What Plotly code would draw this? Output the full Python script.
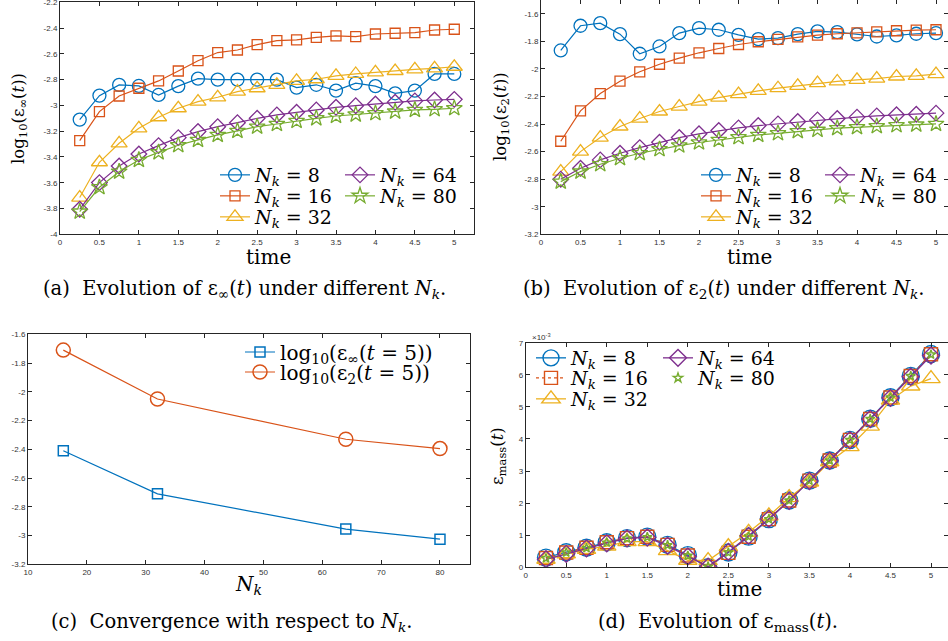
import plotly.graph_objects as go

W, H = 948, 641

# ---------------- data ----------------
t = [0.25, 0.5, 0.75, 1.0, 1.25, 1.5, 1.75, 2.0, 2.25, 2.5,
     2.75, 3.0, 3.25, 3.5, 3.75, 4.0, 4.25, 4.5, 4.75, 5.0]
nk_labels = ["8", "16", "32", "64", "80"]

# (a) log10(eps_inf(t))
einf_8 = [-3.11, -2.924, -2.841, -2.849, -2.919, -2.85, -2.792, -2.80, -2.80, -2.80,
          -2.80, -2.862, -2.84, -2.885, -2.828, -2.85, -2.906, -2.885, -2.756, -2.756]
einf_16 = [-3.273, -3.048, -2.927, -2.867, -2.81, -2.733, -2.653, -2.59, -2.57, -2.528,
           -2.497, -2.492, -2.472, -2.461, -2.466, -2.446, -2.44, -2.435, -2.415, -2.409]
einf_32 = [-3.715, -3.441, -3.294, -3.178, -3.092, -3.022, -2.971, -2.937, -2.893, -2.867,
           -2.841, -2.81, -2.797, -2.771, -2.756, -2.743, -2.733, -2.72, -2.712, -2.70]
einf_64 = [-3.806, -3.599, -3.47, -3.377, -3.312, -3.25, -3.203, -3.165, -3.134, -3.10,
           -3.074, -3.053, -3.035, -3.015, -3.002, -2.989, -2.976, -2.965, -2.958, -2.953]
einf_80 = [-3.824, -3.635, -3.514, -3.423, -3.364, -3.309, -3.268, -3.229, -3.198, -3.165,
           -3.144, -3.121, -3.10, -3.082, -3.071, -3.061, -3.048, -3.035, -3.03, -3.022]

# (b) log10(eps_2(t))
e2_8 = [-1.866, -1.687, -1.668, -1.748, -1.89, -1.837, -1.74, -1.704, -1.716, -1.753,
        -1.784, -1.777, -1.748, -1.728, -1.733, -1.75, -1.765, -1.757, -1.745, -1.74]
e2_16 = [-2.525, -2.304, -2.179, -2.089, -2.021, -1.966, -1.922, -1.883, -1.852, -1.823,
         -1.803, -1.786, -1.767, -1.755, -1.745, -1.738, -1.731, -1.723, -1.719, -1.716]
e2_32 = [-2.745, -2.60, -2.498, -2.418, -2.36, -2.309, -2.273, -2.237, -2.208, -2.183,
         -2.159, -2.14, -2.123, -2.103, -2.091, -2.079, -2.07, -2.055, -2.05, -2.038]
e2_64 = [-2.80, -2.721, -2.66, -2.612, -2.571, -2.532, -2.498, -2.471, -2.447, -2.428,
         -2.411, -2.399, -2.382, -2.37, -2.36, -2.35, -2.341, -2.333, -2.329, -2.321]
e2_80 = [-2.818, -2.745, -2.692, -2.648, -2.612, -2.583, -2.556, -2.534, -2.515, -2.496,
         -2.479, -2.467, -2.452, -2.442, -2.43, -2.423, -2.416, -2.409, -2.404, -2.399]

# (c) convergence at t = 5
nk_conv = [16, 32, 64, 80]
conv_inf = [-2.41, -2.71, -2.955, -3.025]
conv_2 = [-1.71, -2.05, -2.33, -2.395]

# (d) eps_mass(t) in units of 1e-3
em_8 = [0.30, 0.47, 0.61, 0.78, 0.91, 0.955, 0.70, 0.38, 0.0, 0.46,
        0.955, 1.50, 2.08, 2.70, 3.33, 3.97, 4.63, 5.30, 5.96, 6.65]
em_16 = [0.29, 0.46, 0.61, 0.78, 0.91, 0.95, 0.70, 0.37, 0.01, 0.45,
         0.95, 1.50, 2.08, 2.70, 3.33, 3.97, 4.62, 5.29, 5.96, 6.64]
em_32 = [0.25, 0.42, 0.56, 0.66, 0.80, 0.80, 0.52, 0.22, 0.21, 0.64,
         1.09, 1.60, 2.17, 2.66, 3.29, 3.76, 4.40, 5.21, 5.65, 5.88]
em_64 = [0.25, 0.42, 0.59, 0.75, 0.90, 0.93, 0.67, 0.34, 0.02, 0.48,
         0.98, 1.51, 2.07, 2.69, 3.32, 3.96, 4.62, 5.28, 5.94, 6.60]
em_80 = [0.28, 0.46, 0.60, 0.77, 0.90, 0.94, 0.69, 0.36, 0.02, 0.46,
         0.96, 1.50, 2.08, 2.70, 3.33, 3.97, 4.62, 5.29, 5.96, 6.63]

x_ticks_t = [0, 0.5, 1, 1.5, 2, 2.5, 3, 3.5, 4, 4.5, 5]
x_ticktext_t = ["0", "0.5", "1", "1.5", "2", "2.5", "3", "3.5", "4", "4.5", "5"]
ya_ticks = [-4, -3.8, -3.6, -3.4, -3.2, -3, -2.8, -2.6, -2.4, -2.2]
ya_text = ["-4", "-3.8", "-3.6", "-3.4", "-3.2", "-3", "-2.8", "-2.6", "-2.4", "-2.2"]
yb_ticks = [-3.2, -3, -2.8, -2.6, -2.4, -2.2, -2, -1.8, -1.6]
yb_text = ["-3.2", "-3", "-2.8", "-2.6", "-2.4", "-2.2", "-2", "-1.8", "-1.6"]
xc_ticks = [10, 20, 30, 40, 50, 60, 70, 80]
xc_text = ["10", "20", "30", "40", "50", "60", "70", "80"]
yc_ticks = [-3.2, -3, -2.8, -2.6, -2.4, -2.2, -2, -1.8, -1.6]
yc_text = ["-3.2", "-3", "-2.8", "-2.6", "-2.4", "-2.2", "-2", "-1.8", "-1.6"]
yd_ticks = [0, 1, 2, 3, 4, 5, 6, 7]
yd_text = ["0", "1", "2", "3", "4", "5", "6", "7"]

# ---------------- styles ----------------
C = ["#0072BD", "#D95319", "#EDB120", "#7E2F8E", "#77AC30"]
SYM = ["circle-open", "square-open", "triangle-up-open", "diamond-open", "star-open"]
SIZE = [13, 10, 14, 12, 12]
SERIF = "DejaVu Serif"
TICKFONT = dict(family="Liberation Sans", size=8, color="#333333")


def fx(px):
    return px / W


def fy(py):
    return 1 - py / H


def nk_name(s):
    return "<i>N</i><sub><i>k</i></sub> = " + s


legend_common = dict(bgcolor="rgba(0,0,0,0)", borderwidth=0, xanchor="left", yanchor="middle",
                     tracegroupgap=0, itemclick=False, itemdoubleclick=False)
legends = {}


def new_legend(sym_left, row_y, size=19):
    n = len(legends) + 1
    key = "legend" if n == 1 else "legend%d" % n
    legends[key] = dict(legend_common, x=fx(sym_left - 7), y=fy(row_y),
                        font=dict(family=SERIF, size=size, color="black"))
    return key


fig = go.Figure()

# legend slot positions (symbol left edge, row centre) per N_k, column-major layout
slots_a = [(222, 175), (222, 196), (222, 217), (347, 175), (347, 196)]
slots_b = [(703, 175), (703, 196), (703, 217), (827, 175), (827, 196)]
slots_d = [(538, 358), (538, 378), (538, 399), (665, 358), (665, 378)]

# (a)
series_a = [einf_8, einf_16, einf_32, einf_64, einf_80]
for i, ys in enumerate(series_a):
    fig.add_trace(go.Scatter(
        x=t, y=ys, mode="lines+markers", name=nk_name(nk_labels[i]),
        line=dict(color=C[i], width=1.2),
        marker=dict(symbol=SYM[i], size=SIZE[i], color=C[i], line=dict(width=1.3)),
        xaxis="x", yaxis="y", legend=new_legend(*slots_a[i])))

# (b)
series_b = [e2_8, e2_16, e2_32, e2_64, e2_80]
for i, ys in enumerate(series_b):
    fig.add_trace(go.Scatter(
        x=t, y=ys, mode="lines+markers", name=nk_name(nk_labels[i]),
        line=dict(color=C[i], width=1.2),
        marker=dict(symbol=SYM[i], size=SIZE[i], color=C[i], line=dict(width=1.3)),
        xaxis="x2", yaxis="y2", legend=new_legend(*slots_b[i])))

# (c)
fig.add_trace(go.Scatter(
    x=nk_conv, y=conv_inf, mode="lines+markers",
    name="log<sub>10</sub>(ε<sub>∞</sub>(<i>t</i> = 5))",
    line=dict(color=C[0], width=1.2),
    marker=dict(symbol="square-open", size=10, color=C[0], line=dict(width=1.5)),
    xaxis="x3", yaxis="y3", legend=new_legend(247, 352, 20)))
fig.add_trace(go.Scatter(
    x=nk_conv, y=conv_2, mode="lines+markers",
    name="log<sub>10</sub>(ε<sub>2</sub>(<i>t</i> = 5))",
    line=dict(color=C[1], width=1.2),
    marker=dict(symbol="circle-open", size=14, color=C[1], line=dict(width=1.5)),
    xaxis="x3", yaxis="y3", legend=new_legend(247, 372, 20)))

# (d)
series_d = [em_8, em_16, em_32, em_64, em_80]
d_sizes = [17, 13, 16, 13, 7]
d_dash = ["solid", "dot", "solid", "solid", "solid"]
for i, ys in enumerate(series_d):
    fig.add_trace(go.Scatter(
        x=t, y=ys, mode="lines+markers" if i < 4 else "markers",
        name=nk_name(nk_labels[i]),
        line=dict(color=C[i], width=1.3, dash=d_dash[i]),
        marker=dict(symbol=SYM[i], size=d_sizes[i], color=C[i], line=dict(width=1.4)),
        xaxis="x4", yaxis="y4", legend=new_legend(*slots_d[i])))

axis_common = dict(showline=True, linecolor="#262626", linewidth=1, mirror="ticks",
                   ticks="inside", ticklen=4, tickwidth=1, tickcolor="#262626",
                   showgrid=False, zeroline=False, tickfont=TICKFONT, tickangle=0)

fig.update_layout(
    width=W, height=H, margin=dict(l=0, r=0, t=0, b=0, autoexpand=False),
    paper_bgcolor="white", plot_bgcolor="white",
    xaxis=dict(axis_common, domain=[fx(60), fx(474)], range=[0, 5.25], anchor="y",
               tickvals=x_ticks_t, ticktext=x_ticktext_t),
    yaxis=dict(axis_common, domain=[fy(234.3), fy(2.3)], range=[-4, -2.2], anchor="x",
               tickvals=ya_ticks, ticktext=ya_text),
    xaxis2=dict(axis_common, domain=[fx(541), 1.0], range=[0, (948 - 541) / 79.0], anchor="y2",
                tickvals=x_ticks_t, ticktext=x_ticktext_t),
    yaxis2=dict(axis_common, domain=[fy(234.3), 1.0], range=[-3.2, -1.5], anchor="x2",
                tickvals=yb_ticks, ticktext=yb_text),
    xaxis3=dict(axis_common, domain=[fx(28), fx(470)], range=[10, 85.1], anchor="y3",
                tickvals=xc_ticks, ticktext=xc_text),
    yaxis3=dict(axis_common, domain=[fy(564.3), fy(334.3)], range=[-3.2, -1.6], anchor="x3",
                tickvals=yc_ticks, ticktext=yc_text),
    xaxis4=dict(axis_common, domain=[fx(525.7), 1.0], range=[0, (948 - 525.7) / 81.06], anchor="y4",
                tickvals=x_ticks_t, ticktext=x_ticktext_t),
    yaxis4=dict(axis_common, domain=[fy(567.3), fy(342.7)], range=[0, 7], anchor="x4",
                tickvals=yd_ticks, ticktext=yd_text),
    showlegend=True,
    **legends,
)

ann = []
lab_font = dict(family=SERIF, size=20, color="black")
ylab_font = dict(family=SERIF, size=16.5, color="black")
cap_font = dict(family=SERIF, size=19.5, color="black")
# axis labels
ann.append(dict(text="time", x=fx(268), y=fy(257), font=lab_font))
ann.append(dict(text="time", x=fx(749), y=fy(257), font=lab_font))
ann.append(dict(text="<i>N</i><sub><i>k</i></sub>", x=fx(248), y=fy(585), font=lab_font))
ann.append(dict(text="time", x=fx(739), y=fy(589), font=lab_font))
ann.append(dict(text="log<sub>10</sub>(ε<sub>∞</sub>(<i>t</i>))", x=fx(20), y=fy(119),
                textangle=-90, font=ylab_font))
ann.append(dict(text="log<sub>10</sub>(ε<sub>2</sub>(<i>t</i>))", x=fx(502), y=fy(117),
                textangle=-90, font=ylab_font))
ann.append(dict(text="ε<sub>mass</sub>(<i>t</i>)", x=fx(498), y=fy(456),
                textangle=-90, font=ylab_font))
ann.append(dict(text="×10<sup>-3</sup>", x=fx(541), y=fy(337),
                font=dict(family="Liberation Sans", size=8, color="#333333")))
# captions
ann.append(dict(text="(a)  Evolution of ε<sub>∞</sub>(<i>t</i>) under different <i>N</i><sub><i>k</i></sub>.",
                x=fx(244), y=fy(290), font=cap_font))
ann.append(dict(text="(b)  Evolution of ε<sub>2</sub>(<i>t</i>) under different <i>N</i><sub><i>k</i></sub>.",
                x=fx(723), y=fy(290), font=cap_font))
ann.append(dict(text="(c)  Convergence with respect to <i>N</i><sub><i>k</i></sub>.",
                x=fx(232), y=fy(622), font=cap_font))
ann.append(dict(text="(d)  Evolution of ε<sub>mass</sub>(<i>t</i>).",
                x=fx(718), y=fy(622), font=cap_font))
for a in ann:
    a.update(xref="paper", yref="paper", showarrow=False, xanchor="center", yanchor="middle")
fig.update_layout(annotations=ann)

fig.write_html("out.html")
